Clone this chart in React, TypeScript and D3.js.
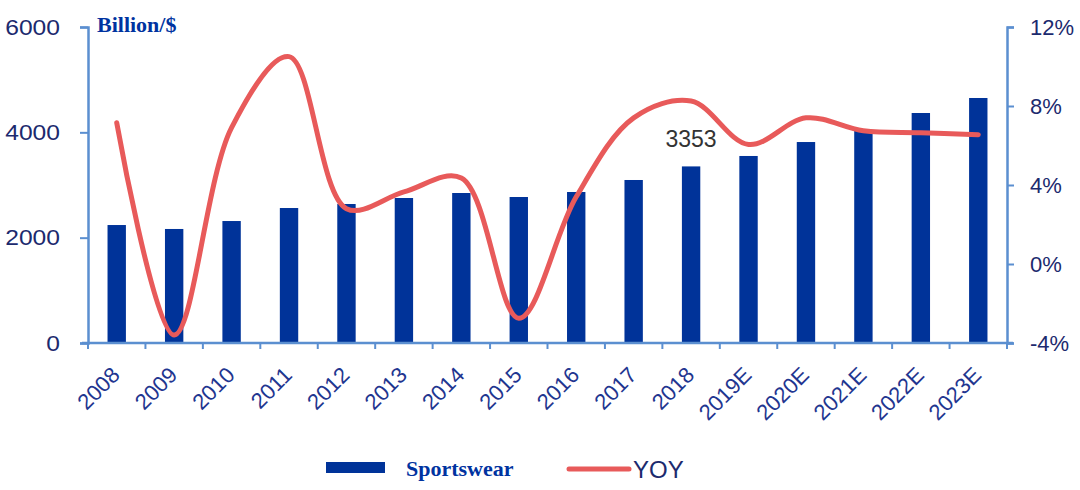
import { useEffect, useRef } from "react";
import * as d3 from "d3";

const years = ["2008", "2009", "2010", "2011", "2012", "2013", "2014", "2015", "2016", "2017", "2018", "2019E", "2020E", "2021E", "2022E", "2023E"];
const sportswear = [2240, 2165, 2316, 2563, 2639, 2753, 2848, 2772, 2867, 3095, 3353, 3551, 3816, 4044, 4367, 4652];
const yoy = [7.15, -3.6, 6.9, 10.5, 2.8, 3.65, 4.35, -2.75, 3.4, 7.4, 8.25, 6.05, 7.4, 6.75, 6.65, 6.55];
const leftTicks = [0, 2000, 4000, 6000];
const rightTicks = [-4, 0, 4, 8, 12];

const axisColor = "#5b8fd0";
const barColor = "#003399";
const lineColor = "#e85a5a";
const labelColor = "#1c2a6e";

function App() {
  const svgRef = useRef<SVGSVGElement>(null);

  useEffect(() => {
    const width = 1080;
    const height = 490;
    const margin = { top: 27, right: 73, bottom: 147, left: 88 };

    const svg = d3.select(svgRef.current).attr("width", width).attr("height", height);
    svg.selectAll("*").remove();

    const x = d3
      .scaleBand()
      .domain(years)
      .range([margin.left, width - margin.right])
      .paddingInner(0.68)
      .paddingOuter(0.34);

    const yLeft = d3.scaleLinear().domain([0, 6000]).range([height - margin.bottom, margin.top]);
    const yRight = d3.scaleLinear().domain([-4, 12]).range([height - margin.bottom, margin.top]);

    // bars
    svg
      .selectAll(".bar")
      .data(years)
      .enter()
      .append("rect")
      .attr("x", (d) => x(d)!)
      .attr("y", (_, i) => yLeft(sportswear[i]))
      .attr("width", x.bandwidth())
      .attr("height", (_, i) => yLeft(0) - yLeft(sportswear[i]))
      .attr("fill", barColor);

    // axes
    const left = svg
      .append("g")
      .attr("transform", `translate(${margin.left},0)`)
      .call(
        d3
          .axisLeft(yLeft)
          .tickValues(leftTicks)
          .tickSize(8)
          .tickPadding(20)
          .tickFormat((d) => `${d}`)
      );
    const right = svg
      .append("g")
      .attr("transform", `translate(${width - margin.right},0)`)
      .call(
        d3
          .axisRight(yRight)
          .tickValues(rightTicks)
          .tickSize(7)
          .tickPadding(16)
          .tickFormat((d) => `${d}%`)
      );

    const step = x.step();
    const boundaries = d3.range(years.length + 1).map((i) => margin.left + i * step);
    const bottom = svg.append("g");
    bottom
      .append("line")
      .attr("x1", margin.left - 6)
      .attr("x2", width - margin.right + 6)
      .attr("y1", yLeft(0))
      .attr("y2", yLeft(0))
      .attr("stroke", axisColor)
      .attr("stroke-width", 2.5);
    bottom
      .selectAll(".xt")
      .data(boundaries)
      .enter()
      .append("line")
      .attr("x1", (d) => d)
      .attr("x2", (d) => d)
      .attr("y1", yLeft(0))
      .attr("y2", yLeft(0) + 6)
      .attr("stroke", axisColor)
      .attr("stroke-width", 2);

    bottom
      .selectAll(".xl")
      .data(years)
      .enter()
      .append("text")
      .attr(
        "transform",
        (d) => `translate(${x(d)! + x.bandwidth() / 2 - 1},${yLeft(0) + 28}) rotate(-45)`
      )
      .attr("text-anchor", "end")
      .attr("dy", "0.35em")
      .attr("fill", "#1f3690")
      .style("font-family", "Liberation Sans, Arial, sans-serif")
      .style("font-size", "22px")
      .text((d) => d);

    [left, right].forEach((g) => {
      g.select(".domain").attr("stroke", axisColor).attr("stroke-width", 2.5);
      g.selectAll(".tick line").attr("stroke", axisColor).attr("stroke-width", 2);
      g.selectAll(".tick text")
        .attr("fill", labelColor)
        .style("font-family", "Liberation Sans, Arial, sans-serif")
        .style("font-size", "22px");
    });
    left.selectAll(".tick text").attr("transform", "scale(1.12,1)").attr("x", -25);

    // yoy line
    const line = d3
      .line<number>()
      .x((_, i) => x(years[i])! + x.bandwidth() / 2)
      .y((d) => yRight(d))
      .curve(d3.curveCatmullRom.alpha(0.5));
    svg
      .append("path")
      .datum(yoy)
      .attr("d", line)
      .attr("fill", "none")
      .attr("stroke", lineColor)
      .attr("stroke-width", 5)
      .attr("stroke-linecap", "round");

    // annotation
    svg
      .append("text")
      .attr("x", x("2018")! + x.bandwidth() / 2)
      .attr("y", yLeft(3353) - 19)
      .attr("text-anchor", "middle")
      .attr("fill", "#333")
      .style("font-family", "Liberation Sans, Arial, sans-serif")
      .style("font-size", "23px")
      .text("3353");

    svg
      .append("text")
      .attr("x", 97)
      .attr("y", 32)
      .attr("fill", "#0033a0")
      .style("font-family", "Liberation Serif, Times New Roman, serif")
      .style("font-weight", "bold")
      .style("font-size", "22px")
      .text("Billion/$");

    // legend
    const legend = svg.append("g");
    legend.append("rect").attr("x", 326).attr("y", 462).attr("width", 59).attr("height", 11).attr("fill", barColor);
    legend
      .append("text")
      .attr("x", 406)
      .attr("y", 476)
      .attr("fill", "#0033a0")
      .style("font-family", "Liberation Serif, Times New Roman, serif")
      .style("font-weight", "bold")
      .style("font-size", "22px")
      .text("Sportswear");
    legend
      .append("line")
      .attr("x1", 569)
      .attr("x2", 629)
      .attr("y1", 469)
      .attr("y2", 469)
      .attr("stroke", lineColor)
      .attr("stroke-width", 5)
      .attr("stroke-linecap", "round");
    legend
      .append("text")
      .attr("x", 633)
      .attr("y", 478)
      .attr("fill", labelColor)
      .style("font-family", "Liberation Sans, Arial, sans-serif")
      .style("font-size", "24px")
      .text("YOY");
  }, []);

  return (
    <div style={{ position: "absolute", left: 0, top: 0 }}>
      <svg ref={svgRef}></svg>
    </div>
  );
}

export default App;
